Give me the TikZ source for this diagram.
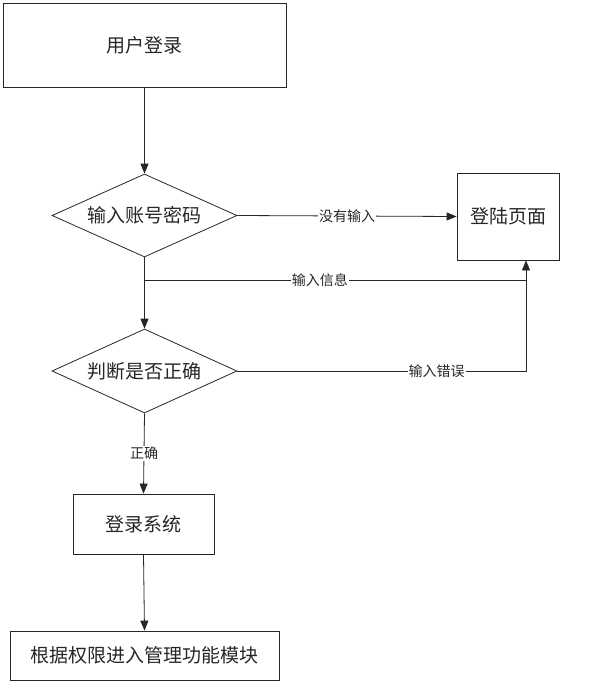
\documentclass[tikz,border=0pt]{standalone}
\usepackage{fontspec}
\setmainfont{Noto Sans CJK SC}
\usetikzlibrary{shapes.geometric,arrows.meta}
\begin{document}
\begin{tikzpicture}[x=1pt,y=-1pt,
  line/.style={draw=black!85, line width=0.8pt},
  arr/.style={line, -{Triangle[length=10pt,width=8pt]}},
  boxnode/.style={draw=black!85, line width=0.8pt, rectangle, inner sep=0pt, font=\fontsize{19}{21}\selectfont, text=black!85},
  decnode/.style={draw=black!85, line width=0.8pt, diamond, shape aspect=2.2, inner sep=0pt, font=\fontsize{19}{21}\selectfont, text=black!85},
  lbl/.style={fill=white, inner sep=1pt, font=\fontsize{14}{16}\selectfont, text=black!85}]
\useasboundingbox (0,0) rectangle (601,683);
\node[boxnode, minimum width=283pt, minimum height=84pt] (login) at (144.5,45) {用户登录};
\node[decnode, minimum width=185pt, minimum height=83pt] (d1) at (144.5,215.5) {输入账号密码};
\node[boxnode, minimum width=102pt, minimum height=87pt] (page) at (508,216.5) {登陆页面};
\node[decnode, minimum width=185pt, minimum height=84pt] (d2) at (144.5,371) {判断是否正确};
\node[boxnode, minimum width=141pt, minimum height=60pt] (sys) at (143.5,524) {登录系统};
\node[boxnode, minimum width=269pt, minimum height=49pt] (mod) at (144.5,655.5) {根据权限进入管理功能模块};
\coordinate (j1) at (144.5,280);
\coordinate (c1) at (526,280);
\draw[arr] (login.south) -- (d1.north);
\draw[arr] (d1.east) -- node[lbl]{没有输入} (page.west);
\draw[arr] (d1.south) -- (d2.north);
\draw[line] (j1) -- node[lbl, pos=0.46]{输入信息} (c1);
\draw[arr] (c1) -- (c1 |- page.south);
\draw[line] (d2.east) -- node[lbl, pos=0.69]{输入错误} (d2.east -| c1) -- (c1);
\draw[arr] (d2.south) -- node[lbl]{正确} (sys.north);
\draw[arr] (sys.south) -- (mod.north);
\end{tikzpicture}
\end{document}
